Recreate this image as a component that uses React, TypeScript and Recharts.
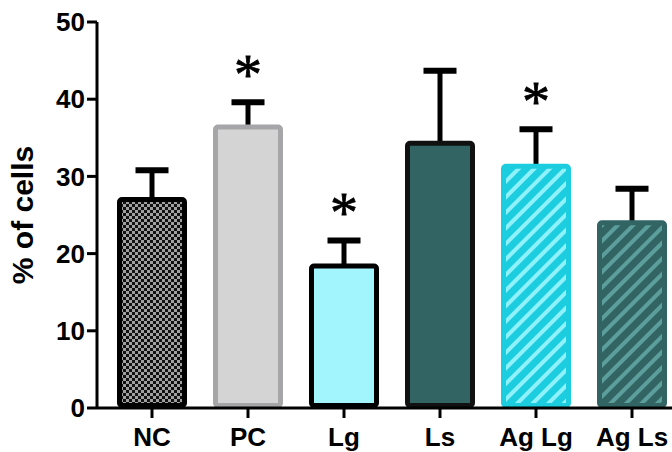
import { BarChart, Bar, XAxis, YAxis, Label } from 'recharts';

const groups = ['NC', 'PC', 'Lg', 'Ls', 'Ag Lg', 'Ag Ls'];
const means = [27.0, 36.4, 18.4, 34.3, 31.3, 24.0];
const sems = [3.8, 3.2, 3.3, 9.4, 4.8, 4.4];
const marked = [false, true, true, false, true, false];
const yTicks = [0, 10, 20, 30, 40, 50];

const fills = ['url(#checker)', '#d4d4d4', '#a2f5fd', '#336464', 'url(#stripeCyan)', 'url(#stripeTeal)'];
const strokes = ['#000000', '#a6a6a8', '#000000', '#111111', '#1ccddf', '#336464'];

const data = groups.map((g, i) => ({ group: g, mean: means[i], sem: sems[i], star: marked[i], idx: i }));

// bar + one-sided error bar + significance star
const BarShape = (props: any) => {
  const { x, y, width, height, payload } = props;
  const i = payload.idx;
  const sw = 5;
  const unit = height / payload.mean;
  const top = y - payload.sem * unit;
  const cx = x + width / 2;
  return (
    <g>
      <line x1={cx} x2={cx} y1={y} y2={top} stroke="#000" strokeWidth={5} />
      <line x1={cx - 16.5} x2={cx + 16.5} y1={top} y2={top} stroke="#000" strokeWidth={6} />
      <rect
        x={x + sw / 2}
        y={y}
        width={width - sw}
        height={height - sw / 2}
        rx={2.5}
        fill={fills[i]}
        stroke={strokes[i]}
        strokeWidth={sw}
      />
      {payload.star && (
        <text
          x={cx}
          y={top - 8}
          textAnchor="middle"
          fontSize={56}
          fontFamily="Liberation Serif"
          fill="#000"
          stroke="#000"
          strokeWidth={0.8}
        >
          *
        </text>
      )}
    </g>
  );
};

export default function App() {
  return (
    <div style={{ position: 'absolute', left: 0, top: 0, width: 672, height: 452, overflow: 'hidden', background: '#fff' }}>
      <BarChart width={690} height={452} data={data} margin={{ top: 22, right: 10, bottom: 0, left: 0 }}>
        <defs>
          <pattern id="checker" width={6} height={6} patternUnits="userSpaceOnUse">
            <rect width={6} height={6} fill="#a0a0a0" />
            <rect width={3} height={3} fill="#111" />
            <rect x={3} y={3} width={3} height={3} fill="#111" />
          </pattern>
          <pattern id="stripeCyan" width={11} height={11} patternUnits="userSpaceOnUse" patternTransform="rotate(45)">
            <rect width={11} height={11} fill="#1ccddf" />
            <rect width={4} height={11} fill="#8ff2fb" />
          </pattern>
          <pattern id="stripeTeal" width={11} height={11} patternUnits="userSpaceOnUse" patternTransform="rotate(45)">
            <rect width={11} height={11} fill="#336464" />
            <rect width={4} height={11} fill="#5c9e9b" />
          </pattern>
        </defs>
        <XAxis
          dataKey="group"
          height={44}
          padding={{ left: 7, right: 0 }}
          axisLine={{ stroke: '#000', strokeWidth: 3 }}
          tickLine={{ stroke: '#000', strokeWidth: 3 }}
          tickSize={10}
          tickMargin={10}
          tick={{ fill: '#000', fontSize: 26, fontWeight: 700, fontFamily: 'Liberation Sans' }}
          interval={0}
        />
        <YAxis
          width={97}
          domain={[0, 50]}
          ticks={yTicks}
          interval={0}
          axisLine={{ stroke: '#000', strokeWidth: 3 }}
          tickLine={{ stroke: '#000', strokeWidth: 3 }}
          tickSize={10}
          tickMargin={2}
          tick={{ fill: '#000', fontSize: 26, fontWeight: 700, fontFamily: 'Liberation Sans' }}
        >
          <Label
            value="% of cells"
            angle={-90}
            position="insideLeft"
            offset={22}
            style={{ textAnchor: 'middle', fill: '#000', fontSize: 30, fontWeight: 700, fontFamily: 'Liberation Sans' }}
          />
        </YAxis>
        <Bar dataKey="mean" barSize={70} shape={<BarShape />} isAnimationActive={false} />
      </BarChart>
    </div>
  );
}
